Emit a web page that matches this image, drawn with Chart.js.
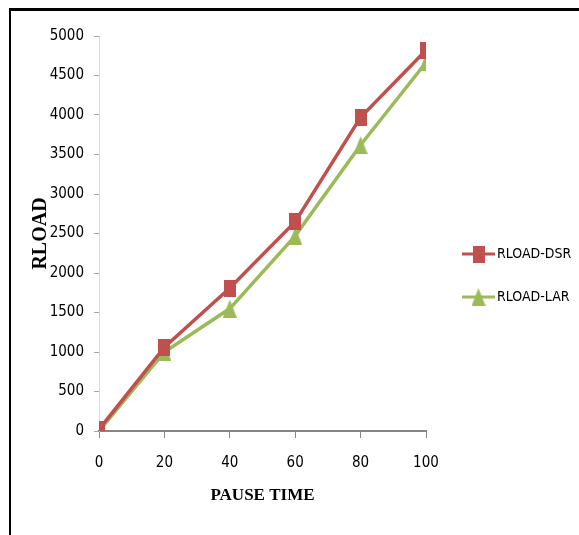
<!DOCTYPE html>
<html>
<head>
<meta charset="utf-8">
<title>RLOAD vs Pause Time</title>
<script src="https://cdn.jsdelivr.net/npm/chart.js@4.4.1/dist/chart.umd.min.js"></script>
<style>
    html, body { margin: 0; padding: 0; background: #fff; }
    .wrap { position: relative; width: 579px; height: 535px; overflow: hidden; }
    .frame {
        position: absolute; left: 9px; top: 8px; width: 600px; height: 600px;
        border-top: 3px solid #000; border-left: 2px solid #000;
    }
    canvas { position: absolute; left: 0; top: 0; }
</style>
</head>
<body>
<div class="wrap">
    <div class="frame"></div>
    <canvas id="rloadChart" width="579" height="535"></canvas>
</div>
<script>
// Dados do gráfico
const pauseTimes = [0, 20, 40, 60, 80, 100];
const rloadDsr = [20, 1060, 1810, 2650, 3970, 4820];
const rloadLar = [0, 1000, 1550, 2470, 3620, 4665];
const seriesNames = ['RLOAD-DSR', 'RLOAD-LAR'];

const RED = '#c0504d';
const GREEN = '#9bbb59';
const TICK_FONT = "'DejaVu Sans Condensed', 'Liberation Sans', sans-serif";
const TITLE_FONT = "'Liberation Serif', 'DejaVu Serif', serif";

// Marcadores desenhados num canvas (um pouco mais altos que largos)
function makeSquare(color) {
    const c = document.createElement('canvas');
    c.width = 12; c.height = 17;
    const ctx = c.getContext('2d');
    ctx.fillStyle = color;
    ctx.fillRect(0, 0, 12, 17);
    return c;
}
function makeTriangle(color) {
    const c = document.createElement('canvas');
    c.width = 14; c.height = 18;
    const ctx = c.getContext('2d');
    ctx.fillStyle = color;
    ctx.beginPath();
    ctx.moveTo(7, 0);
    ctx.lineTo(14, 18);
    ctx.lineTo(0, 18);
    ctx.closePath();
    ctx.fill();
    return c;
}
const squareMark = makeSquare(RED);
const triangleMark = makeTriangle(GREEN);

// Legenda à direita, ao estilo do Excel
const sideLegend = {
    id: 'sideLegend',
    afterDraw(chart) {
        const ctx = chart.ctx;
        const items = [
            { label: seriesNames[0], color: RED, mark: squareMark, y: 254 },
            { label: seriesNames[1], color: GREEN, mark: triangleMark, y: 297 }
        ];
        ctx.save();
        items.forEach(it => {
            ctx.strokeStyle = it.color;
            ctx.lineWidth = 3;
            ctx.beginPath();
            ctx.moveTo(462, it.y);
            ctx.lineTo(495, it.y);
            ctx.stroke();
            ctx.drawImage(it.mark, 478.5 - it.mark.width / 2, it.y - it.mark.height / 2);
            ctx.fillStyle = '#000';
            ctx.font = '14px ' + TICK_FONT;
            ctx.textBaseline = 'middle';
            ctx.textAlign = 'left';
            ctx.fillText(it.label, 497, it.y);
        });
        ctx.restore();
    }
};

const ctx = document.getElementById('rloadChart').getContext('2d');
new Chart(ctx, {
    type: 'line',
    data: {
        datasets: [{
            label: seriesNames[0],
            data: pauseTimes.map((t, i) => ({ x: t, y: rloadDsr[i] })),
            borderColor: RED,
            backgroundColor: RED,
            borderWidth: 3.5,
            pointStyle: squareMark,
            tension: 0
        }, {
            label: seriesNames[1],
            data: pauseTimes.map((t, i) => ({ x: t, y: rloadLar[i] })),
            borderColor: GREEN,
            backgroundColor: GREEN,
            borderWidth: 3.5,
            pointStyle: triangleMark,
            tension: 0
        }]
    },
    options: {
        responsive: false,
        animation: false,
        layout: {
            padding: { top: 36, right: 153, left: 0, bottom: 0 }
        },
        plugins: {
            legend: { display: false },
            tooltip: { enabled: false }
        },
        scales: {
            x: {
                type: 'linear',
                min: 0,
                max: 100,
                afterFit: scale => { scale.height = 104; },
                ticks: {
                    stepSize: 20,
                    padding: 16,
                    color: '#000',
                    font: { size: 15, family: TICK_FONT },
                    callback: v => String(v)
                },
                grid: {
                    drawOnChartArea: false,
                    drawTicks: true,
                    tickLength: 7,
                    color: '#868686'
                },
                border: { color: '#868686', width: 2 },
                title: {
                    display: true,
                    text: 'PAUSE TIME',
                    color: '#000',
                    padding: { top: 0, bottom: 29 },
                    font: { size: 17, weight: 'bold', family: TITLE_FONT }
                }
            },
            y: {
                min: 0,
                max: 5000,
                afterFit: scale => { scale.width = 99; },
                ticks: {
                    stepSize: 500,
                    padding: 10,
                    color: '#000',
                    font: { size: 15, family: TICK_FONT },
                    callback: v => String(v)
                },
                grid: {
                    drawOnChartArea: false,
                    drawTicks: true,
                    tickLength: 5,
                    color: '#a6a6a6'
                },
                border: { color: '#d9d9d9', width: 1 },
                title: {
                    display: true,
                    text: 'RLOAD',
                    color: '#000',
                    padding: { top: 29, bottom: 0 },
                    font: { size: 20, weight: 'bold', family: TITLE_FONT }
                }
            }
        }
    },
    plugins: [sideLegend]
});
</script>
</body>
</html>
